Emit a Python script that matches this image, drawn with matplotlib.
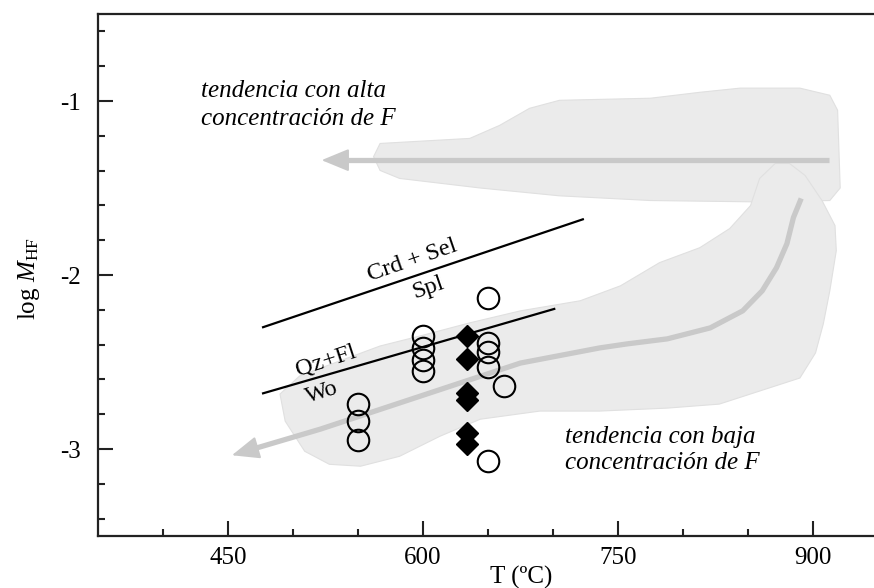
import matplotlib
matplotlib.use("Agg")
import numpy as np
import matplotlib.pyplot as plt
from matplotlib.patches import Polygon

plt.rcParams["font.family"] = ["Liberation Serif", "DejaVu Serif"]
plt.rcParams["mathtext.fontset"] = "custom"
plt.rcParams["mathtext.rm"] = "Liberation Serif"
plt.rcParams["mathtext.it"] = "Liberation Serif:italic"
plt.rcParams["axes.unicode_minus"] = False

# muestras (T en ºC, log M_HF)
circ_T = [550, 550, 550, 600, 600, 600, 600, 650, 650, 650, 650, 662, 650]
circ_v = [-2.74, -2.84, -2.95, -2.35, -2.42, -2.49, -2.55, -2.13, -2.39, -2.44, -2.53, -2.64, -3.07]
diam_T = [634, 634, 634, 634, 634, 634]
diam_v = [-2.35, -2.48, -2.68, -2.72, -2.91, -2.97]

# reacciones
crd_T = [477, 723]
crd_v = [-2.30, -1.68]
qz_T = [477, 701]
qz_v = [-2.68, -2.195]

# campo de alta concentración de F
alta_T = [562, 567, 636, 659, 682, 705, 775, 813, 844, 890, 913, 919, 921, 913, 859, 775, 705, 644, 582, 567]
alta_v = [-1.32, -1.244, -1.215, -1.14, -1.042, -0.996, -0.984, -0.95, -0.926, -0.926, -0.967, -1.053,
          -1.50, -1.572, -1.58, -1.572, -1.545, -1.50, -1.445, -1.399]
alta_arrow_T = [912, 522]
alta_arrow_v = [-1.34, -1.34]

# campo de baja concentración de F
baja_T = [490, 505, 536, 567, 598, 636, 675, 721, 752, 782, 813, 836, 852, 859, 871, 882, 894, 907, 917,
          918, 913, 908, 902, 890, 859, 828, 788, 736, 690, 644, 613, 582, 552, 528, 509, 494]
baja_v = [-2.684, -2.581, -2.494, -2.408, -2.35, -2.275, -2.206, -2.148, -2.062, -1.929, -1.843, -1.733,
          -1.601, -1.445, -1.359, -1.359, -1.428, -1.572, -1.716, -1.86, -2.091, -2.281, -2.448, -2.592,
          -2.667, -2.742, -2.765, -2.782, -2.782, -2.829, -2.927, -3.042, -3.099, -3.088, -3.013, -2.84]
baja_curve_T = [891, 885, 880, 872, 861, 846, 821, 788, 757, 736, 675, 598, 521, 453]
baja_curve_v = [-1.56, -1.67, -1.82, -1.958, -2.091, -2.206, -2.304, -2.367, -2.396, -2.419, -2.506,
                -2.696, -2.886, -3.036]

x_major = [450, 600, 750, 900]
x_minor = [400, 500, 550, 650, 700, 800, 850]
y_major = [-1, -2, -3]
y_minor = [-3.4, -3.2, -2.8, -2.6, -2.4, -2.2, -1.8, -1.6, -1.4, -1.2, -0.8, -0.6]

FILL = "#ebebeb"
EDGE = "#e0e0e0"
ARROW = "#c9c9c9"
HEAD = "-|>,head_length=1.7,head_width=0.7"


def trend_arrow(ax, xs, ys):
    """Línea gruesa gris con punta de flecha en el último punto."""
    to_px = ax.transData
    to_data = ax.transData.inverted()
    tip = to_px.transform((xs[-1], ys[-1]))
    prev = to_px.transform((xs[-2], ys[-2]))
    unit = (prev - tip) / np.hypot(*(prev - tip))
    shaft_end = to_data.transform(tip + unit * 16)
    tail = to_data.transform(tip + unit * 32)
    ax.plot(list(xs[:-1]) + [shaft_end[0]], list(ys[:-1]) + [shaft_end[1]],
            color=ARROW, lw=3.8, solid_capstyle="butt", solid_joinstyle="round", zorder=2)
    ax.annotate("", xy=(xs[-1], ys[-1]), xytext=tuple(tail),
                arrowprops=dict(arrowstyle=HEAD, color=ARROW, lw=1.5, shrinkA=0, shrinkB=0), zorder=2)


fig = plt.figure(figsize=(8.74, 5.88), dpi=100)
ax = fig.add_axes([98 / 874, 52 / 588, 776 / 874, 522 / 588])
ax.set_xlim(350, 947)
ax.set_ylim(-3.5, -0.5)

ax.add_patch(Polygon(list(zip(alta_T, alta_v)), closed=True, fc=FILL, ec=EDGE, lw=0.8, zorder=1))
ax.add_patch(Polygon(list(zip(baja_T, baja_v)), closed=True, fc=FILL, ec=EDGE, lw=0.8, zorder=1))

# flechas de tendencia
trend_arrow(ax, alta_arrow_T, alta_arrow_v)
trend_arrow(ax, baja_curve_T, baja_curve_v)

# reacciones
ax.plot(crd_T, crd_v, color="black", lw=1.6, zorder=3)
ax.plot(qz_T, qz_v, color="black", lw=1.6, zorder=3)

ax.text(592, -1.918, "Crd + Sel", fontsize=17.5, rotation=19, ha="center", va="center",
        rotation_mode="anchor", zorder=4)
ax.text(604, -2.073, "Spl", fontsize=17.5, rotation=19, ha="center", va="center",
        rotation_mode="anchor", zorder=4)
ax.text(525, -2.494, "Qz+Fl", fontsize=17.5, rotation=18, ha="center", va="center",
        rotation_mode="anchor", zorder=4)
ax.text(522, -2.679, "Wo", fontsize=17.5, rotation=18, ha="center", va="center",
        rotation_mode="anchor", zorder=4)

# muestras
ax.plot(circ_T, circ_v, "o", ms=15.5, mfc="none", mec="black", mew=1.5, zorder=5)
ax.plot(diam_T, diam_v, "D", ms=11.5, mfc="black", mec="black", zorder=5)

ax.text(429, -0.978, "tendencia con alta", fontsize=18, style="italic", va="baseline")
ax.text(429, -1.14, "concentración de F", fontsize=18, style="italic", va="baseline")
ax.text(709, -2.967, "tendencia con baja", fontsize=18, style="italic", va="baseline")
ax.text(709, -3.117, "concentración de F", fontsize=18, style="italic", va="baseline")

ax.set_xticks(x_major)
ax.set_xticks(x_minor, minor=True)
ax.set_yticks(y_major)
ax.set_yticks(y_minor, minor=True)
ax.set_xticklabels([str(t) for t in x_major])
ax.set_yticklabels([str(t) for t in y_major])
ax.tick_params(which="major", direction="in", length=11, width=1.5, labelsize=18, color="#222222")
ax.tick_params(which="minor", direction="in", length=5, width=1.5, color="#222222")
ax.tick_params(axis="x", which="major", pad=8)
ax.tick_params(axis="y", which="major", pad=12)

for side in ["left", "bottom", "top"]:
    ax.spines[side].set_linewidth(1.6)
    ax.spines[side].set_color("#222222")
ax.spines["right"].set_visible(False)

ax.set_xlabel("T (ºC)", fontsize=18)
ax.xaxis.set_label_coords(0.545, -0.057)
ax.set_ylabel(r"log $M_{\mathrm{HF}}$", fontsize=18)
ax.yaxis.set_label_coords(-0.072, 0.494)

fig.savefig("out.png", dpi=100)
